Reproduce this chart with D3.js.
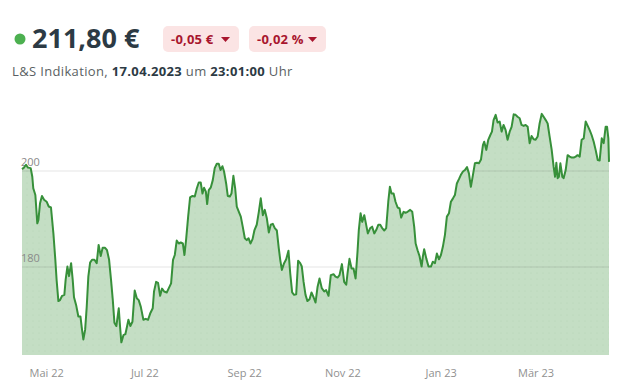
<!DOCTYPE html>
<html lang="de">
<head>
<meta charset="UTF-8">
<title>Kursverlauf</title>
<script src="https://d3js.org/d3.v7.min.js"></script>
<style>
  html, body { margin: 0; padding: 0; background: #fff; }
  svg { display: block; font-family: "Open Sans", "Noto Sans", sans-serif; }
</style>
</head>
<body>
<div id="chart"></div>
<script>
// header texts
const price = "211,80 €";
const changeAbs = "-0,05 €";
const changePct = "-0,02 %";

// series: days since start date, closing price
const startDate = new Date(2022, 3, 16);
const days = [
  0.0, 1.2, 2.5, 3.7, 5.4, 6.4, 7.0, 8.3, 9.5, 10.2, 11.2, 12.4, 13.7, 15.3, 16.6, 18.0, 19.5, 20.7, 21.5, 22.6,
  23.6, 24.9, 26.3, 27.1, 28.2, 29.2, 30.5, 31.5, 32.3, 33.6, 35.0, 36.3, 37.3, 38.1, 39.2, 40.2, 41.2, 42.3, 43.5, 45.0,
  46.4, 47.6, 48.9, 50.1, 51.6, 52.8, 54.1, 55.3, 56.4, 57.4, 58.6, 60.1, 60.9, 61.7, 63.0, 64.2, 65.3, 66.1, 67.3, 68.6,
  70.0, 71.3, 72.5, 73.8, 75.4, 76.9, 78.3, 79.6, 81.2, 82.0, 83.3, 84.5, 85.8, 87.0, 88.3, 89.9, 91.2, 92.6, 93.8, 94.9,
  96.1, 97.4, 98.6, 99.9, 100.9, 101.9, 103.2, 104.4, 105.9, 107.3, 108.6, 109.8, 111.0, 112.1, 113.1, 114.2, 115.0, 116.0, 117.3, 118.5,
  119.7, 121.0, 122.2, 123.3, 124.5, 125.5, 126.8, 127.8, 129.1, 130.1, 131.3, 132.4, 133.4, 134.7, 135.9, 137.1, 138.4, 139.6, 140.7, 141.9,
  143.2, 144.4, 145.8, 147.1, 148.3, 149.6, 150.8, 152.1, 153.3, 154.5, 155.8, 157.0, 158.3, 159.5, 160.4, 161.4, 162.8, 164.1, 165.5, 166.6,
  167.8, 169.0, 170.3, 171.5, 172.8, 173.8, 174.9, 176.1, 177.3, 178.6, 179.8, 181.1, 182.3, 183.6, 184.8,
  186.2, 187.7, 188.9, 190.4, 191.8, 193.5, 194.7, 196.0, 197.2, 198.7, 200.1, 201.4, 202.2, 203.4, 204.7, 205.9, 207.2, 208.4, 209.2, 210.3,
  211.3, 212.6, 213.6, 214.8, 216.3, 217.5, 218.8, 220.0, 221.3, 222.5, 223.7, 225.0, 226.2, 227.5, 228.5, 229.5, 230.8, 232.0, 233.3, 234.5,
  235.5, 237.0, 238.2, 239.5, 241.1, 242.4, 243.6, 244.5, 245.7, 246.9, 248.2, 249.0, 249.8, 251.1, 252.5, 254.0, 255.2, 256.5, 257.7, 259.0,
  260.2, 261.4, 262.7, 263.9, 265.2, 266.4, 267.7, 268.9, 270.1, 271.4, 272.6, 273.9, 275.1, 276.4, 277.6, 278.8, 280.1, 281.3, 282.6, 283.8,
  285.1, 286.3, 287.1, 288.4, 289.6, 290.9, 291.9, 292.9, 294.2, 295.4, 296.7, 297.9, 299.1, 300.4, 301.6, 302.9, 304.1, 305.4, 306.6, 307.8,
  309.1, 310.3, 311.6, 312.8, 314.1, 315.3, 316.5, 317.8, 319.0, 320.3, 321.5, 322.8, 324.0, 325.3, 326.5, 327.7, 329.0, 330.2, 331.1, 331.9,
  332.7, 333.5, 334.4, 335.6, 336.4, 337.7, 338.9, 340.2, 341.4, 342.7, 343.9, 345.1, 346.4, 347.6, 348.9, 350.1, 351.4, 352.6, 353.8, 355.1,
  356.3, 357.6, 358.8, 360.1, 361.3, 362.5, 363.4, 364.2, 364.6
];
const prices = [
  200.4, 200.7, 201.3, 200.7, 200.6, 198.8, 196.4, 195.0, 189.1, 189.8, 193.3, 194.8, 194.0, 193.6, 192.6, 192.4, 187.0, 181.5, 177.3, 172.9,
  173.1, 174.0, 174.2, 177.3, 180.1, 178.1, 180.8, 177.3, 173.7, 172.1, 169.7, 169.7, 166.9, 164.9, 166.9, 171.7, 178.0, 180.9, 181.5, 181.5,
  180.8, 184.6, 182.3, 184.0, 184.0, 183.5, 181.5, 177.3, 173.1, 168.4, 167.7, 171.4, 167.6, 164.3, 165.8, 166.0, 167.7, 169.0, 167.7, 168.6,
  175.1, 173.5, 173.1, 171.7, 169.0, 169.2, 169.0, 170.3, 171.4, 174.9, 176.9, 176.7, 174.0, 175.5, 174.9, 174.7, 175.6, 176.6, 181.5, 182.5,
  185.5, 184.9, 185.1, 184.9, 182.5, 185.6, 190.5, 194.5, 194.8, 194.7, 196.4, 197.6, 197.6, 195.3, 196.5, 195.7, 193.1, 196.0, 196.6, 198.1,
  200.6, 201.5, 201.5, 200.2, 201.0, 199.9, 197.4, 194.8, 194.7, 195.3, 199.0, 196.4, 192.6, 191.5, 190.5, 188.4, 186.0, 185.6, 186.0, 184.9,
  185.8, 187.7, 188.8, 191.5, 194.3, 190.8, 191.9, 190.1, 187.2, 188.8, 189.0, 188.1, 187.6, 183.9, 181.5, 179.4, 180.8, 181.6, 183.4, 178.7,
  174.7, 174.2, 174.3, 181.3, 180.8, 180.1, 176.9, 174.2, 172.9, 173.3, 174.7, 173.7, 172.6, 175.9, 177.6,
  175.6, 174.9, 175.2, 174.0, 178.3, 178.5, 178.0, 177.8, 178.3, 180.6, 176.9, 176.3, 178.7, 181.7, 179.7, 179.7, 177.6, 183.2, 187.7, 191.2,
  189.4, 190.8, 189.1, 187.0, 188.1, 188.4, 187.0, 187.7, 188.8, 188.8, 188.1, 187.6, 188.1, 193.6, 196.7, 195.3, 195.3, 193.6, 192.4, 192.2,
  190.3, 191.5, 191.3, 191.5, 191.9, 191.5, 188.4, 184.9, 183.5, 182.3, 180.1, 182.2, 183.7, 181.8, 180.1, 180.1, 181.1, 180.8, 182.8, 181.6,
  182.5, 184.2, 186.7, 190.5, 191.2, 193.6, 194.3, 195.0, 197.4, 198.3, 199.2, 199.9, 200.2, 200.8, 199.5, 196.7, 199.2, 201.6, 201.7, 201.6,
  202.4, 205.4, 206.1, 204.4, 206.5, 207.5, 208.2, 210.6, 211.7, 210.1, 210.3, 208.2, 209.6, 208.5, 206.5, 208.2, 209.2, 211.8, 211.7, 211.3,
  211.0, 209.6, 209.4, 209.6, 209.2, 205.8, 207.3, 206.6, 206.5, 207.2, 209.9, 211.9, 211.3, 210.6, 209.9, 207.2, 204.4, 200.9, 198.8, 201.7,
  198.5, 198.8, 201.6, 198.8, 198.5, 200.2, 203.3, 203.0, 202.8, 202.8, 203.0, 203.3, 203.0, 206.5, 206.8, 210.3, 209.4, 208.5, 207.5, 206.1,
  204.4, 202.3, 202.2, 206.8, 205.8, 209.2, 209.2, 206.8, 201.9
];

// axis labels
const gridValues = [180, 200];
const tickDates = [new Date(2022, 4, 1), new Date(2022, 6, 1), new Date(2022, 8, 1),
                   new Date(2022, 10, 1), new Date(2023, 0, 1), new Date(2023, 2, 1)];
const tickLabels = ["Mai 22", "Jul 22", "Sep 22", "Nov 22", "Jan 23", "Mär 23"];

const data = days.map((d, i) => ({
  date: new Date(startDate.getTime() + d * 864e5),
  value: prices[i]
}));

const W = 629, H = 388;
const svg = d3.select('#chart').append('svg')
  .attr('width', W)
  .attr('height', H);

// ---- header ----
svg.append('circle').attr('cx', 20).attr('cy', 39).attr('r', 5.5).attr('fill', '#4cb050');
svg.append('text')
  .attr('x', 32).attr('y', 48)
  .attr('font-size', 27).attr('font-weight', 700)
  .attr('fill', '#2c3a44')
  .text(price);

function badge(x, w, label) {
  const g = svg.append('g').attr('transform', `translate(${x},26)`);
  g.append('rect').attr('width', w).attr('height', 26).attr('rx', 5).attr('fill', '#fbe4e4');
  g.append('text')
    .attr('x', 8).attr('y', 17.5)
    .attr('font-size', 13).attr('font-weight', 700)
    .attr('letter-spacing', 0.2)
    .attr('fill', '#a8162e')
    .text(label);
  g.append('path')
    .attr('d', `M${w - 18},11 l9,0 l-4.5,5 z`)
    .attr('fill', '#a8162e');
}
badge(163, 76, changeAbs);
badge(249, 77, changePct);

const sub = svg.append('text')
  .attr('x', 12).attr('y', 76)
  .attr('font-size', 13).attr('letter-spacing', 0.35)
  .attr('fill', '#5a5f63');
sub.append('tspan').text('L&S Indikation, ');
sub.append('tspan').attr('font-weight', 700).attr('fill', '#2c3a44').text('17.04.2023');
sub.append('tspan').text(' um ');
sub.append('tspan').attr('font-weight', 700).attr('fill', '#2c3a44').text('23:01:00');
sub.append('tspan').text(' Uhr');

// ---- chart ----
const x = d3.scaleTime()
  .domain([data[0].date, data[data.length - 1].date])
  .range([22, 609]);
const y = d3.scaleLinear()
  .domain([180, 200])
  .range([267, 171]);
const yBottom = 355;

// dotted fill texture
const defs = svg.append('defs');
const pat = defs.append('pattern')
  .attr('id', 'dots').attr('width', 6).attr('height', 6)
  .attr('patternUnits', 'userSpaceOnUse');
pat.append('rect').attr('width', 6).attr('height', 6).attr('fill', '#c4dec4');
pat.append('circle').attr('cx', 3).attr('cy', 3).attr('r', 0.6).attr('fill', '#b7d4b7');

svg.append('path')
  .datum(data)
  .attr('fill', 'url(#dots)')
  .attr('d', d3.area().x(d => x(d.date)).y0(yBottom).y1(d => y(d.value)));

// grid lines
svg.append('g').selectAll('line')
  .data(gridValues).join('line')
  .attr('x1', 22).attr('x2', 609)
  .attr('y1', d => y(d)).attr('y2', d => y(d))
  .attr('stroke', '#000').attr('stroke-opacity', 0.1).attr('stroke-width', 1);

svg.append('g').selectAll('text')
  .data(gridValues).join('text')
  .attr('x', 21).attr('y', d => y(d) - 5)
  .attr('font-size', 11).attr('fill', '#8a8a8a')
  .text(d => d);

svg.append('path')
  .datum(data)
  .attr('fill', 'none')
  .attr('stroke', '#37903a')
  .attr('stroke-width', 2)
  .attr('stroke-linejoin', 'round')
  .attr('d', d3.line().x(d => x(d.date)).y(d => y(d.value)));

// x axis
const xAxis = d3.axisBottom(x)
  .tickValues(tickDates)
  .tickSize(0)
  .tickPadding(0)
  .tickFormat((d, i) => tickLabels[i]);
const gx = svg.append('g')
  .attr('transform', `translate(0,${yBottom + 14})`)
  .call(xAxis);
gx.select('.domain').remove();
gx.selectAll('text')
  .attr('font-family', '"Open Sans", sans-serif')
  .attr('font-size', 11)
  .attr('fill', '#919191');
</script>
</body>
</html>
